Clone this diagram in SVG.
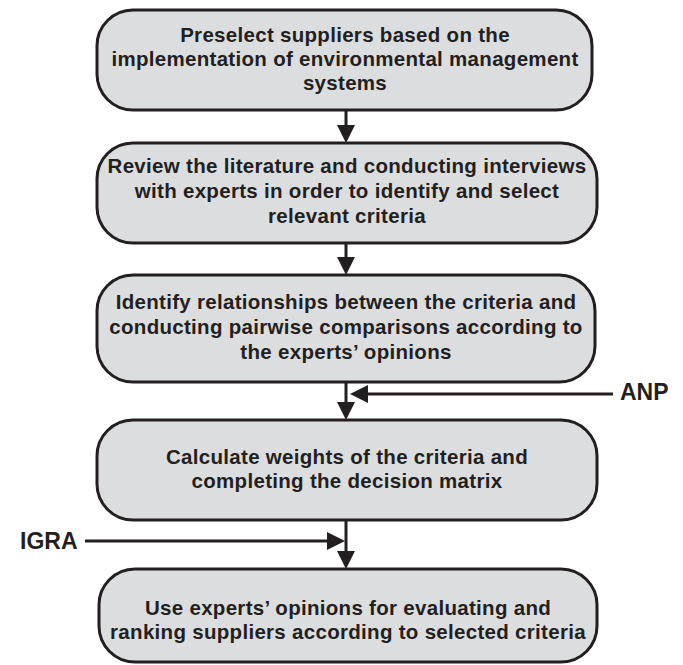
<svg xmlns="http://www.w3.org/2000/svg" width="683" height="665" viewBox="0 0 683 665">
<defs>
<style>
.box{fill:#dcdddf;stroke:#231f20;stroke-width:3}
.t{font-family:"Liberation Sans",Arial,sans-serif;font-weight:bold;font-size:20.5px;letter-spacing:0.3px;fill:#231f20;text-anchor:middle}
.lbl{font-family:"Liberation Sans",Arial,sans-serif;font-weight:bold;font-size:23px;fill:#231f20}
.ln{stroke:#231f20;stroke-width:3;fill:none}
.ah{fill:#231f20}
</style>
</defs>
<rect width="683" height="665" fill="#ffffff"/>
<g id="connectors">
<line class="ln" x1="346" y1="110" x2="346" y2="128"/>
<path class="ah" d="M337,125 L355,125 L346,143 Z"/>
<line class="ln" x1="346" y1="243" x2="346" y2="260"/>
<path class="ah" d="M337,257 L355,257 L346,275 Z"/>
<line class="ln" x1="346" y1="382" x2="346" y2="405"/>
<path class="ah" d="M337,402 L355,402 L346,420 Z"/>
<line class="ln" x1="613" y1="394" x2="366" y2="394"/>
<path class="ah" d="M368,385 L368,403 L350,394 Z"/>
<line class="ln" x1="346" y1="520" x2="346" y2="554"/>
<path class="ah" d="M337,551 L355,551 L346,569 Z"/>
<line class="ln" x1="85" y1="541" x2="329" y2="541"/>
<path class="ah" d="M327,532 L327,550 L345,541 Z"/>
</g>
<g id="node1">
<rect class="box" x="97" y="10" width="495" height="100" rx="36"/>
<text class="t" x="345" y="42">Preselect suppliers based on the</text>
<text class="t" x="345" y="66">implementation of environmental management</text>
<text class="t" x="345" y="90">systems</text>
</g>
<g id="node2">
<rect class="box" x="97" y="143" width="500" height="100" rx="36"/>
<text class="t" x="347" y="173">Review the literature and conducting interviews</text>
<text class="t" x="347" y="198">with experts in order to identify and select</text>
<text class="t" x="347" y="223">relevant criteria</text>
</g>
<g id="node3">
<rect class="box" x="97" y="275" width="498" height="107" rx="36"/>
<text class="t" x="346" y="309">Identify relationships between the criteria and</text>
<text class="t" x="346" y="334">conducting pairwise comparisons according to</text>
<text class="t" x="346" y="359">the experts’ opinions</text>
</g>
<g id="node4">
<rect class="box" x="97" y="420" width="500" height="100" rx="36"/>
<text class="t" x="347" y="464">Calculate weights of the criteria and</text>
<text class="t" x="347" y="488">completing the decision matrix</text>
</g>
<g id="node5">
<rect class="box" x="99" y="569" width="498" height="93" rx="36"/>
<text class="t" x="348" y="615">Use experts’ opinions for evaluating and</text>
<text class="t" x="348" y="639">ranking suppliers according to selected criteria</text>
</g>
<g id="label-anp">
<text class="lbl" x="620" y="400">ANP</text>
</g>
<g id="label-igra">
<text class="lbl" x="20" y="549">IGRA</text>
</g>
</svg>
